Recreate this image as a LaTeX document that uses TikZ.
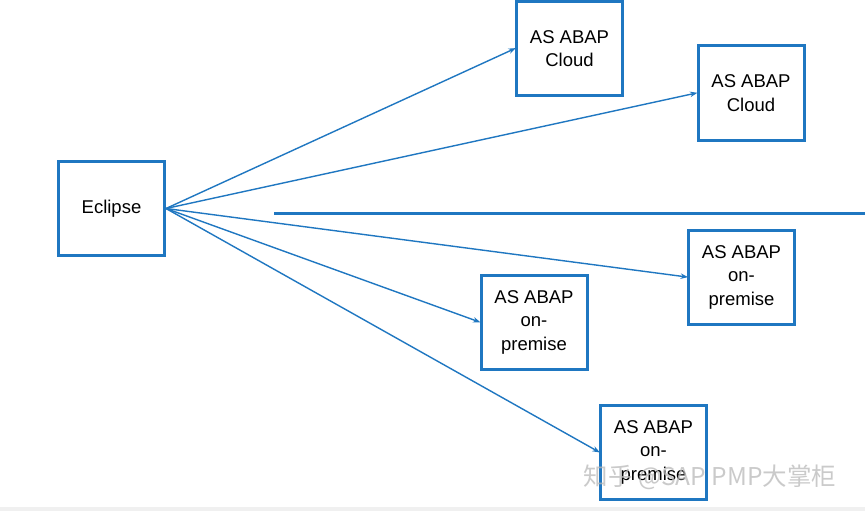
\documentclass[tikz,border=0pt]{standalone}
\usepackage{fontspec}
\setmainfont{Liberation Sans}
\newfontfamily\cjkfont{Noto Sans CJK SC}
\usetikzlibrary{arrows.meta}
\definecolor{sysblue}{RGB}{31,119,193}
\tikzset{
  sysbox/.style={draw=sysblue, line width=3pt, fill=white, minimum width=106pt,
    minimum height=94pt, inner sep=0pt, align=center,
    font=\fontsize{18.5}{23.5}\selectfont},
  link/.style={draw=sysblue, line width=1.4pt,
    -{Stealth[length=7.5pt,width=5.5pt]}, shorten >=-1pt},
  divider/.style={draw=sysblue, line width=3pt},
}
\begin{document}
\begin{tikzpicture}[x=1pt, y=-1pt]
  \useasboundingbox (0,0) rectangle (865,511);
  \fill[white] (0,0) rectangle (865,511);
  \fill[gray!12] (0,507) rectangle (865,511);

  % systems
  \node[sysbox] (eclipse) at (111.5,208.5) {Eclipse};
  \node[sysbox] (cloudA)  at (569.5,48.5)  {AS ABAP\\Cloud};
  \node[sysbox] (cloudB)  at (751,93)      {AS ABAP\\Cloud};
  \node[sysbox] (premA)   at (741.5,277)   {AS ABAP\\on-\\premise};
  \node[sysbox] (premB)   at (534,322)     {AS ABAP\\on-\\premise};
  \node[sysbox] (premC)   at (653.5,452)   {AS ABAP\\on-\\premise};

  % cloud / on-premise divider
  \coordinate (divL) at (274,213);
  \coordinate (divR) at (865,213);
  \draw[divider] (divL) -- (divR);

  % connections
  \draw[link] (eclipse.east) -- (cloudA.west);
  \draw[link] (eclipse.east) -- (cloudB.west);
  \draw[link] (eclipse.east) -- (premA.west);
  \draw[link] (eclipse.east) -- (premB.west);
  \draw[link] (eclipse.east) -- (premC.west);

  % watermark
  \node[text=gray!55, opacity=0.75, font=\fontsize{24.5}{28}\selectfont, inner sep=0pt]
    (mark) at (710,477) {\cjkfont 知乎 @SAP PMP大掌柜};
\end{tikzpicture}
\end{document}
